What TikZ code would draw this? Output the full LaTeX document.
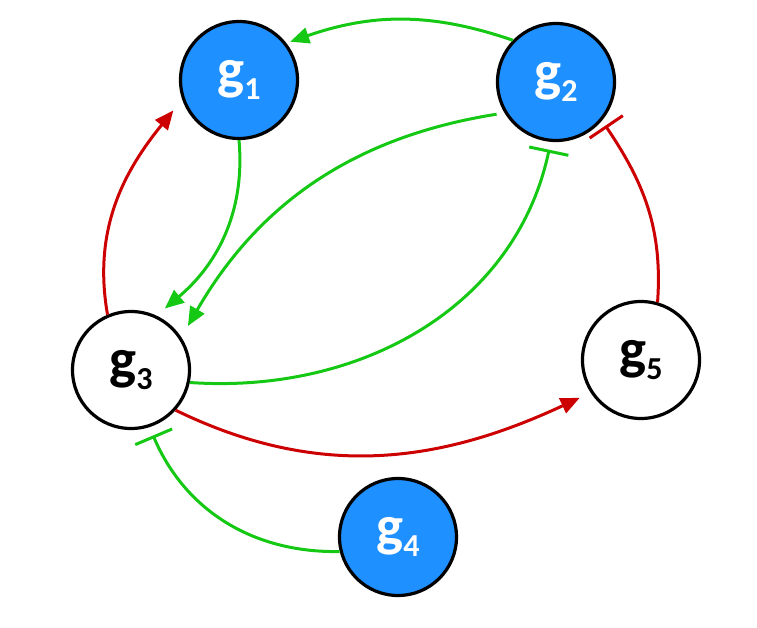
\documentclass[tikz,border=0pt]{standalone}
\usepackage{fontspec}
\setmainfont{Carlito}
\usepackage{tikz}
\usetikzlibrary{arrows.meta}
\definecolor{geneblue}{RGB}{30,144,255}
\definecolor{actgreen}{RGB}{20,200,20}
\definecolor{inhred}{RGB}{204,0,0}
\newcommand{\gene}[1]{{\fontsize{57}{57}\selectfont g}\raisebox{-11pt}{\fontsize{32}{32}\selectfont #1}}

\begin{document}
\begin{tikzpicture}[x=1pt,y=1pt,
    gene/.style={circle,draw=black,line width=3.2pt,minimum size=117pt,inner sep=0pt,font=\bfseries},
    on/.style={gene,fill=geneblue,text=white},
    off/.style={gene,fill=white,text=black},
    act/.style={-{Triangle[length=19pt,width=16pt]},line width=3pt},
    inh/.style={-{Bar[width=40pt]},line width=3pt}]
    \useasboundingbox (0,0) rectangle (757,627);

    \node [on] (g1) at (239,547) {\gene{1}};
    \node [on] (g2) at (556,545) {\gene{2}};
    \node [off] (g3) at (131,257) {\gene{3}};
    \node [on] (g4) at (398,90) {\gene{4}};
    \node [off] (g5) at (641,267) {\gene{5}};

    \draw [act,actgreen,shorten >=4pt] (g2.136) to[out=161,in=19] (g1.38);
    \draw [act,actgreen,shorten >=11pt] (g1.270) to[out=-85,in=40] (g3.65);
    \draw [act,actgreen,shorten <=8pt,shorten >=13pt] (g2.211) to[out=189,in=60] (g3.33);
    \draw [inh,actgreen,shorten >=8pt] (g3.-12) to[out=-4,in=258] (g2.265);
    \draw [inh,actgreen,shorten >=9pt] (g4.194) to[out=181,in=-67] (g3.-72);

    \draw [act,inhred,shorten >=14pt] (g3.113) to[out=100,in=231] (g1.199);
    \draw [inh,inhred,shorten >=6pt] (g5.74) to[out=86,in=-56] (g2.-40);
    \draw [act,inhred,shorten >=12pt] (g3.-42) to[out=-26,in=205] (g5.213);
\end{tikzpicture}
\end{document}
